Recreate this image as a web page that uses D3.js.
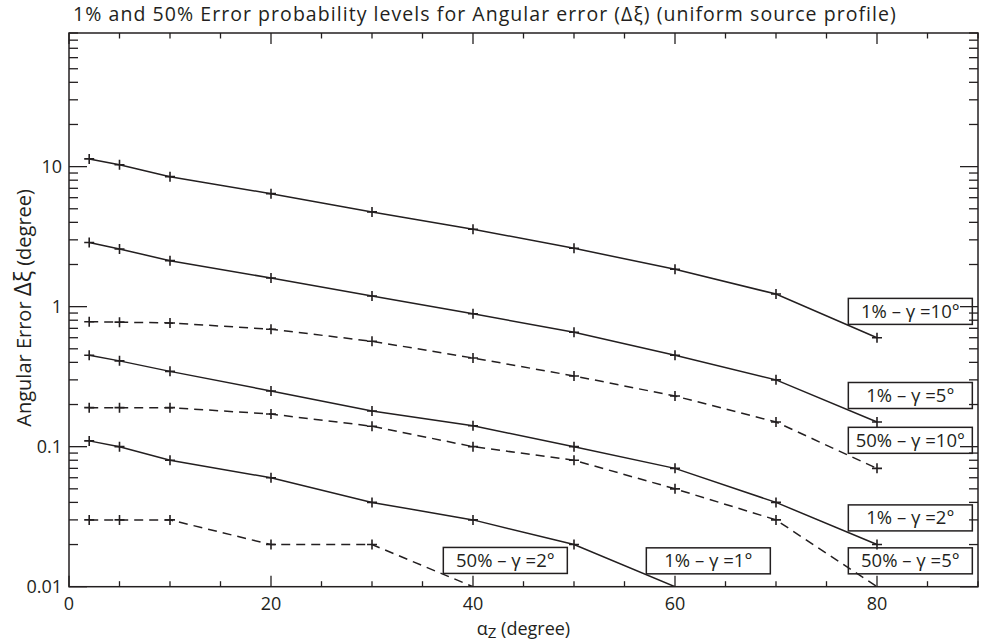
<!DOCTYPE html>
<html>
<head>
<meta charset="utf-8">
<script src="https://cdn.jsdelivr.net/npm/d3@7"></script>
<style>
  body { margin: 0; background: #fff; }
  svg { display: block; }
  text { font-family: "Open Sans", "Noto Sans", sans-serif; fill: #231f20; }
</style>
</head>
<body>
<svg id="chart" width="981" height="644"></svg>
<script>
// ---- data ----
const xValues = [2, 5, 10, 20, 30, 40, 50, 60, 70, 80];
const p1_g10  = [11.35, 10.3, 8.48, 6.41, 4.75, 3.57, 2.61, 1.85, 1.23, 0.60];
const p1_g5   = [2.87, 2.58, 2.13, 1.60, 1.19, 0.89, 0.656, 0.45, 0.30, 0.15];
const p50_g10 = [0.78, 0.775, 0.765, 0.69, 0.566, 0.43, 0.32, 0.23, 0.15, 0.070];
const p1_g2   = [0.45, 0.41, 0.345, 0.25, 0.18, 0.141, 0.10, 0.070, 0.040, 0.020];
const p50_g5  = [0.19, 0.19, 0.19, 0.171, 0.14, 0.10, 0.080, 0.050, 0.030, 0.010];
const p1_g1   = [0.11, 0.10, 0.080, 0.060, 0.040, 0.030, 0.020, 0.010];
const p50_g2  = [0.030, 0.030, 0.030, 0.020, 0.020, 0.010];

const seriesNames  = ["1% – γ =10°", "1% – γ =5°", "50% – γ =10°", "1% – γ =2°", "50% – γ =5°", "1% – γ =1°", "50% – γ =2°"];
const seriesValues = [p1_g10, p1_g5, p50_g10, p1_g2, p50_g5, p1_g1, p50_g2];
const seriesDashed = [false, false, true, false, true, false, true];
// label anchors in data coordinates (x in degrees, y in error value)
const labelX = [83.3, 83.3, 83.3, 83.3, 83.3, 63.3, 43.2];
const labelY = [0.925, 0.232, 0.111, 0.031, 0.0153, 0.0153, 0.0154];

const xTickLabels = ["0", "20", "40", "60", "80"];
const yTickLabels = ["0.01", "0.1", "1", "10"];

const titleText = "1% and 50% Error probability levels for Angular error (Δξ) (uniform source profile)";

// ---- layout ----
const L = 69, R = 978, T = 33, B = 586.7;
const svg = d3.select("#chart");
const ink = "#231f20";

const x = d3.scaleLinear().domain([0, 90]).range([L, R]);
const y = d3.scaleLog().domain([0.01, 90]).range([B, T]);

// frame
svg.append("rect").attr("x", L).attr("y", T).attr("width", R - L).attr("height", B - T)
  .attr("fill", "none").attr("stroke", ink).attr("stroke-width", 1.5);

// x ticks (bottom + top, inward)
const xMajor = xTickLabels.map(Number);
const xMinor = d3.range(0, 91, 5).filter(v => !xMajor.includes(v));
const xMajLen = 11, xMinLen = 5.5;
const ticksG = svg.append("g").attr("stroke", ink).attr("stroke-width", 1.3);
xMajor.concat(xMinor).forEach(v => {
  const len = xMajor.includes(v) ? xMajLen : xMinLen;
  ticksG.append("line").attr("x1", x(v)).attr("x2", x(v)).attr("y1", B).attr("y2", B - len);
  ticksG.append("line").attr("x1", x(v)).attr("x2", x(v)).attr("y1", T).attr("y2", T + len);
});
// y ticks (left + right, inward)
const yMajor = yTickLabels.map(Number);
const yMinor = [];
[0.01, 0.1, 1, 10].forEach(d => { for (let k = 2; k <= 9; k++) { const v = d * k; if (v <= 90) yMinor.push(v); } });
const yMajLen = 18, yMinLen = 9;
yMajor.concat(yMinor).forEach(v => {
  const len = yMajor.includes(v) ? yMajLen : yMinLen;
  ticksG.append("line").attr("x1", L).attr("x2", L + len).attr("y1", y(v)).attr("y2", y(v));
  ticksG.append("line").attr("x1", R).attr("x2", R - len).attr("y1", y(v)).attr("y2", y(v));
});

// tick labels
svg.append("g").selectAll("text").data(xTickLabels).join("text")
  .attr("x", d => x(+d)).attr("y", B + 23).attr("text-anchor", "middle")
  .attr("font-size", 18).text(d => d);
svg.append("g").selectAll("text").data(yTickLabels).join("text")
  .attr("x", L - 7).attr("y", d => y(+d) + 6.5).attr("text-anchor", "end")
  .attr("font-size", 18).text(d => d);

// title
svg.append("text").attr("x", 485).attr("y", 20.5).attr("text-anchor", "middle")
  .attr("font-size", 19.5).attr("letter-spacing", 1.05).text(titleText);

// axis titles
const xt = svg.append("text").attr("x", (L + R) / 2).attr("y", 635).attr("text-anchor", "middle").attr("font-size", 18);
xt.append("tspan").text("α");
xt.append("tspan").attr("dy", 3).attr("font-size", 15).text("Z");
xt.append("tspan").attr("dy", -3).text(" (degree)");

const yt = svg.append("text").attr("transform", `translate(31,${(T + B) / 2 - 2}) rotate(-90)`)
  .attr("text-anchor", "middle").attr("font-size", 20);
yt.append("tspan").text("Angular Error ");
yt.append("tspan").attr("font-size", 24).text("Δξ");
yt.append("tspan").text(" (degree)");

// clip
svg.append("clipPath").attr("id", "plotclip").append("rect")
  .attr("x", L).attr("y", T).attr("width", R - L).attr("height", B - T);

const line = d3.line().x(d => x(d.x)).y(d => y(d.v));
const plot = svg.append("g").attr("clip-path", "url(#plotclip)");
seriesValues.forEach((vals, i) => {
  const pts = vals.map((v, j) => ({ x: xValues[j], v }));
  plot.append("path").datum(pts).attr("d", line)
    .attr("fill", "none").attr("stroke", ink).attr("stroke-width", 1.5)
    .attr("stroke-dasharray", seriesDashed[i] ? "9,6" : null);
  const s = 5;
  plot.append("g").selectAll("path").data(pts.filter(p => p.v > 0.0101)).join("path")
    .attr("d", p => `M${x(p.x) - s},${y(p.v)}H${x(p.x) + s}M${x(p.x)},${y(p.v) - s}V${y(p.v) + s}`)
    .attr("stroke", ink).attr("stroke-width", 1.6);
});

// labels
const bw = 124, bh = 26;
seriesNames.forEach((name, i) => {
  const cx = x(labelX[i]), cy = y(labelY[i]);
  svg.append("rect").attr("x", cx - bw / 2).attr("y", cy - bh / 2).attr("width", bw).attr("height", bh)
    .attr("fill", "none").attr("stroke", ink).attr("stroke-width", 1.5);
  svg.append("text").attr("x", cx).attr("y", cy + 6.5).attr("text-anchor", "middle")
    .attr("font-size", 18.5).text(name);
});
</script>
</body>
</html>
